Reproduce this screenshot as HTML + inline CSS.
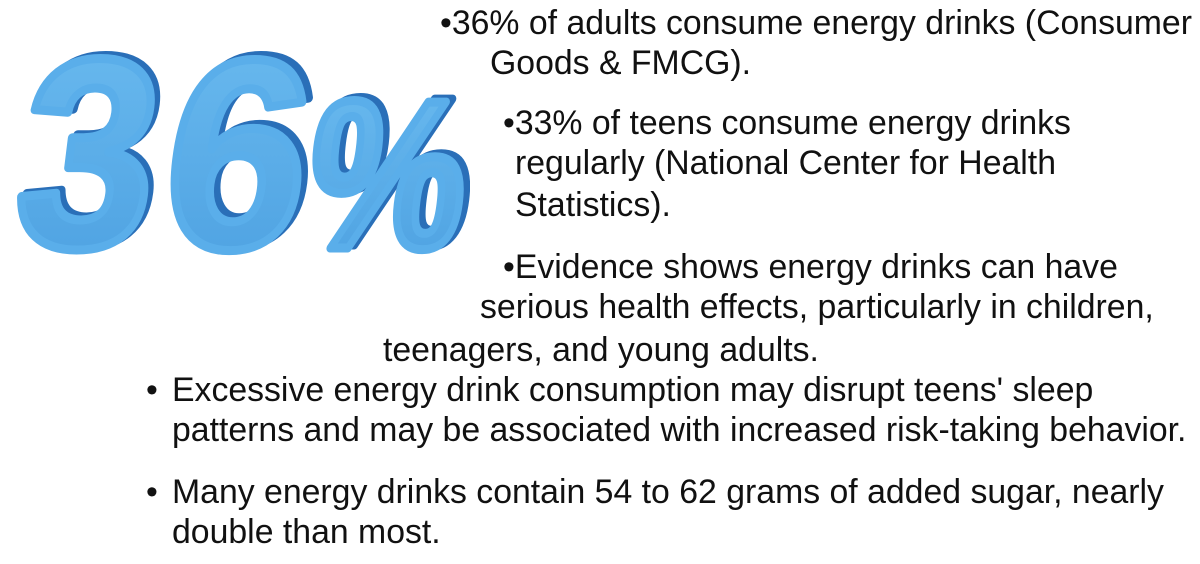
<!DOCTYPE html>
<html><head><meta charset="utf-8"><style>
body{margin:0;width:1200px;height:564px;background:#fff;overflow:hidden;position:relative;font-family:"Liberation Sans",Arial,sans-serif;color:#111}
.t{position:absolute;font-size:33.8px;white-space:nowrap;line-height:1}
</style></head><body>
<svg width="470" height="290" style="position:absolute;left:0;top:0" viewBox="0 0 470 290">
<defs>
<linearGradient id="g" x1="0" y1="0" x2="0" y2="1"><stop offset="0" stop-color="#6cbcf0"/><stop offset="1" stop-color="#4b9fe0"/></linearGradient>
</defs>
<g font-family="Liberation Sans,Arial,sans-serif" font-weight="bold" stroke-linejoin="round" transform="translate(0,250) skewX(-7) translate(0,-250)">
<g fill="#2a6fb8" stroke="#2a6fb8" stroke-width="9">
<text x="14" y="244" font-size="270" textLength="137" lengthAdjust="spacingAndGlyphs">3</text>
<text x="162" y="244" font-size="270" textLength="142" lengthAdjust="spacingAndGlyphs">6</text>
<text x="306" y="245" font-size="212" textLength="158" lengthAdjust="spacingAndGlyphs">%</text>
</g>
<g fill="url(#g)" stroke="#5aaeea" stroke-width="9">
<text x="9" y="247" font-size="270" textLength="137" lengthAdjust="spacingAndGlyphs">3</text>
<text x="156" y="248" font-size="270" textLength="142" lengthAdjust="spacingAndGlyphs">6</text>
<text x="300" y="248" font-size="212" textLength="158" lengthAdjust="spacingAndGlyphs">%</text>
</g>
</g>
</svg>
<div class="t" style="left:440px;top:7px">•36% of adults consume energy drinks (Consumer</div>
<div class="t" style="left:490px;top:47px">Goods &amp; FMCG).</div>
<div class="t" style="left:503px;top:107px">•33% of teens consume energy drinks</div>
<div class="t" style="left:515px;top:147px">regularly (National Center for Health</div>
<div class="t" style="left:515px;top:189px">Statistics).</div>
<div class="t" style="left:503px;top:251px">•Evidence shows energy drinks can have</div>
<div class="t" style="left:480px;top:291px">serious health effects, particularly in children,</div>
<div class="t" style="left:383px;top:334px">teenagers, and young adults.</div>
<div class="t" style="left:146px;top:374px">•</div>
<div class="t" style="left:172px;top:374px">Excessive energy drink consumption may disrupt teens' sleep</div>
<div class="t" style="left:172px;top:414px">patterns and may be associated with increased risk-taking behavior.</div>
<div class="t" style="left:146px;top:476px">•</div>
<div class="t" style="left:172px;top:476px">Many energy drinks contain 54 to 62 grams of added sugar, nearly</div>
<div class="t" style="left:172px;top:516px">double than most.</div>
</body></html>
